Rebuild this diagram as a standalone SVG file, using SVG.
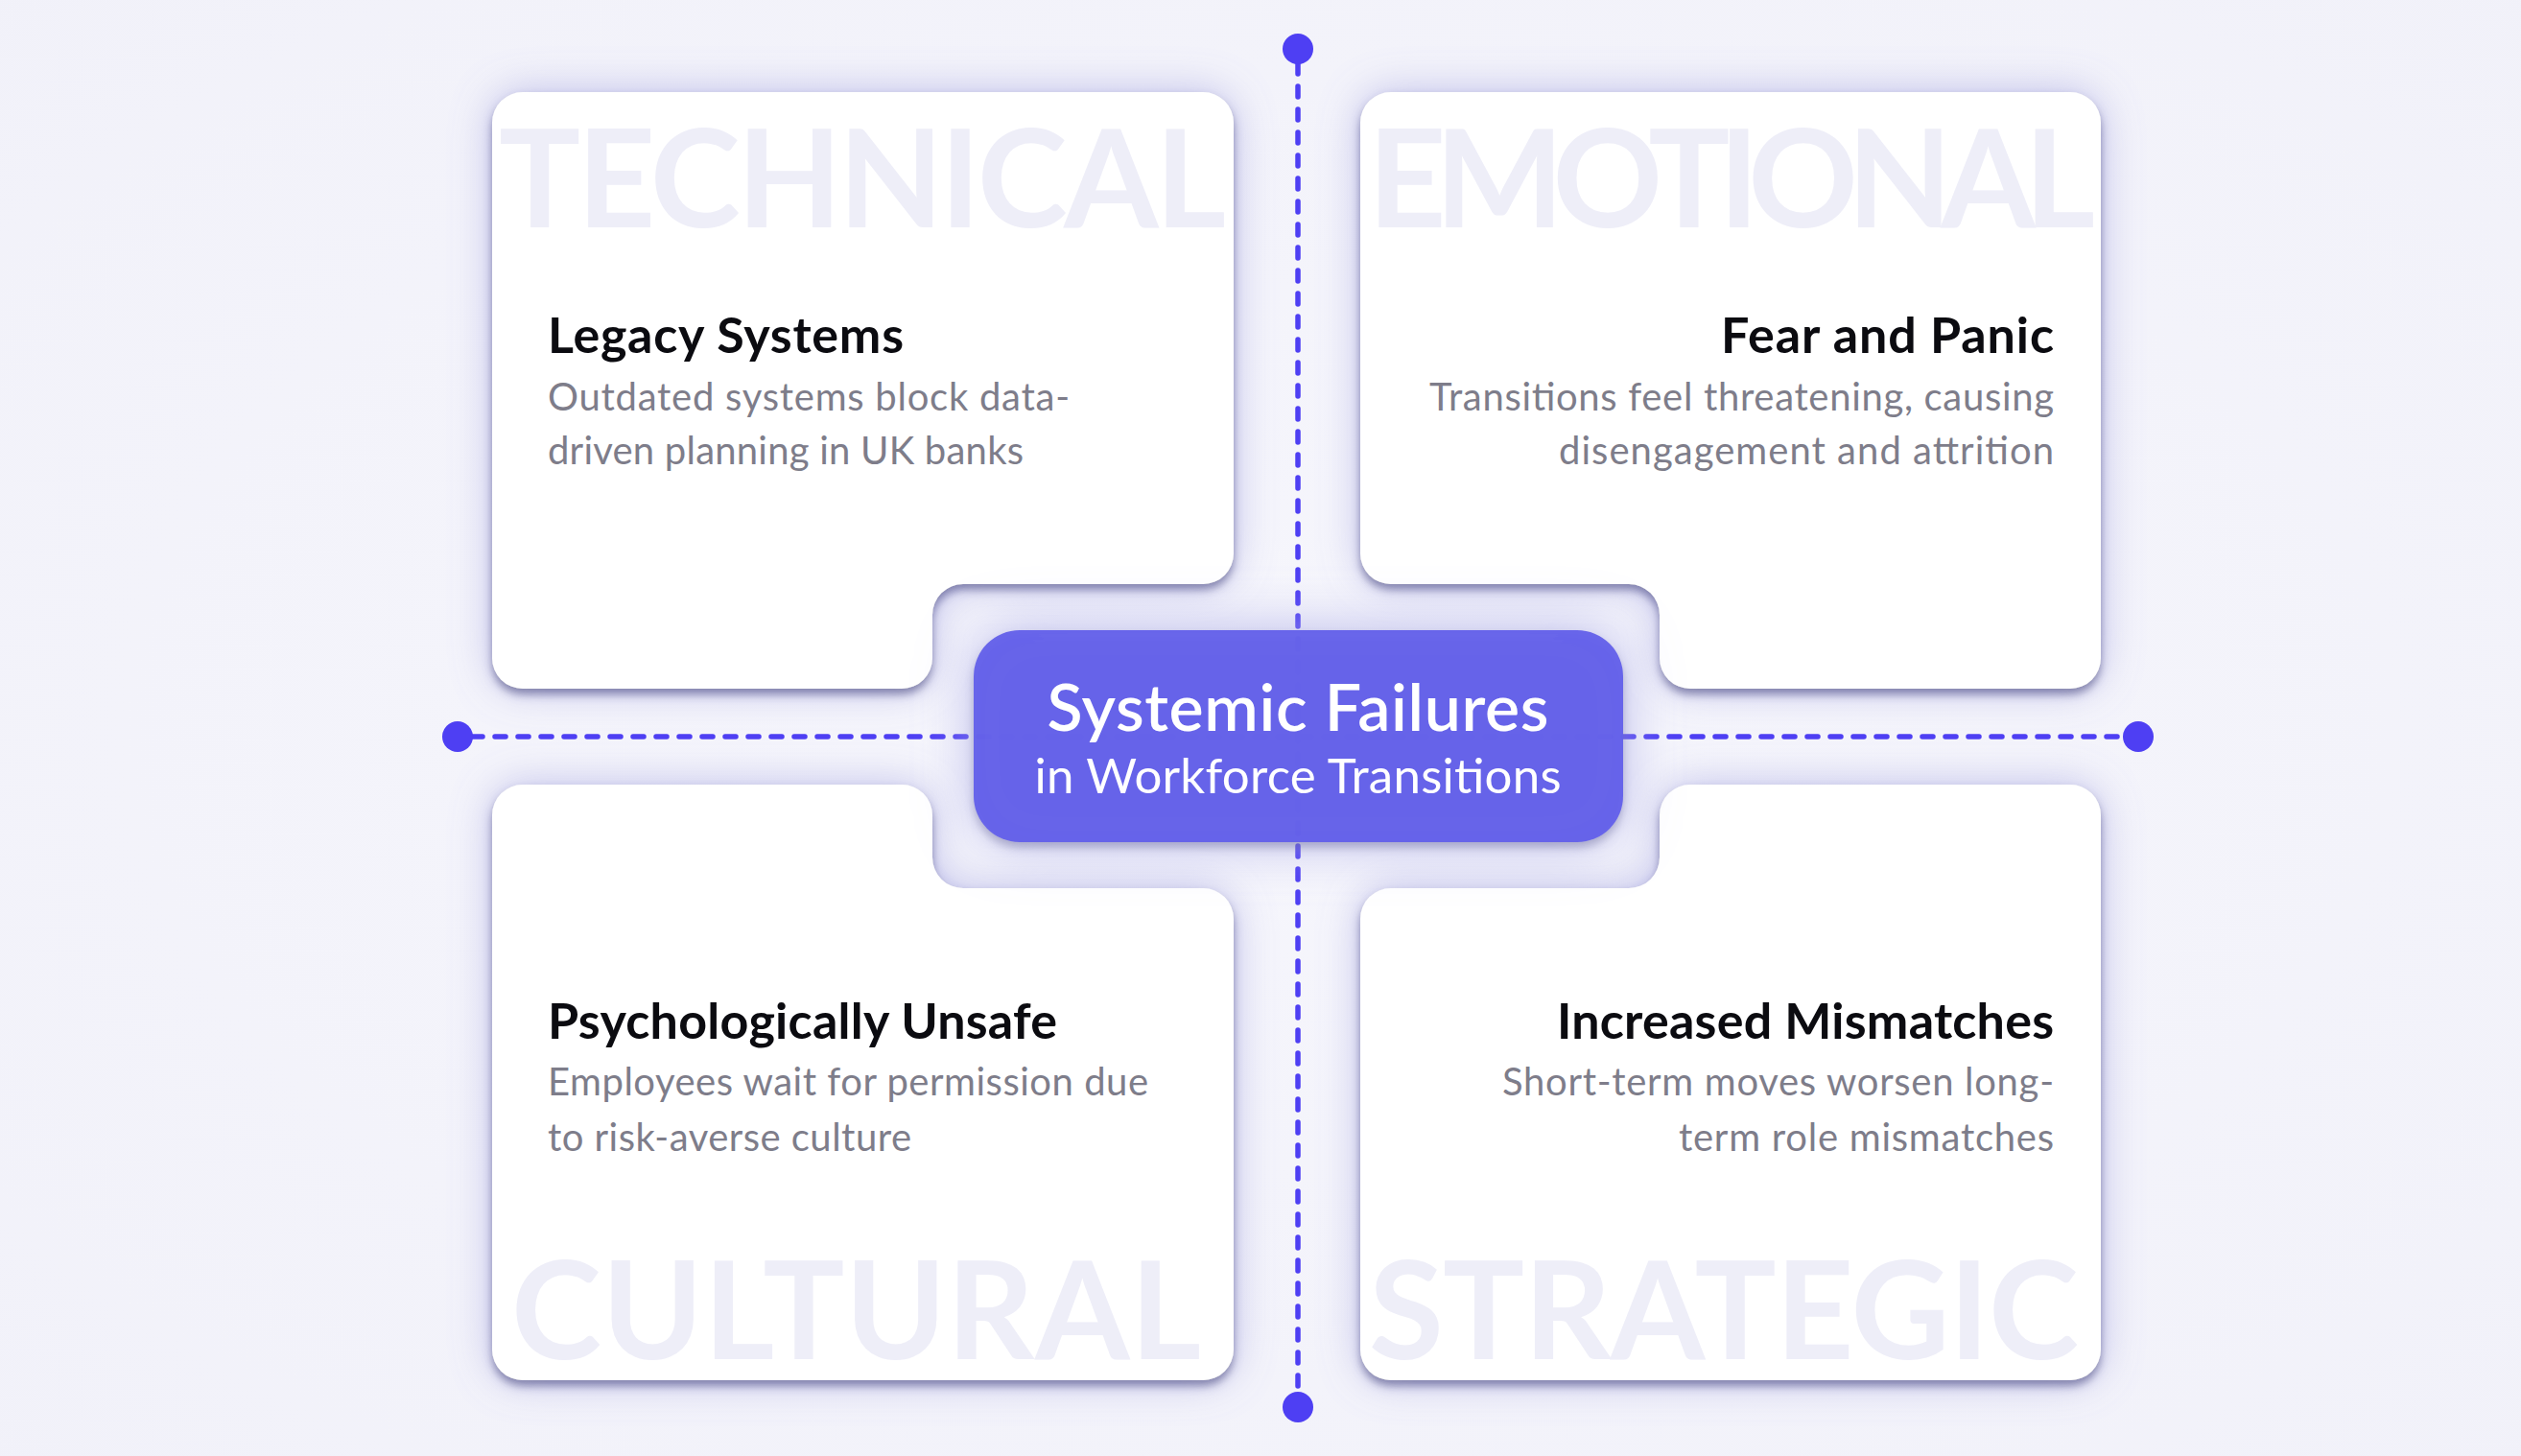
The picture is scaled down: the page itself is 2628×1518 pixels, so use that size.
<svg xmlns="http://www.w3.org/2000/svg" width="2628" height="1518" viewBox="0 0 2628 1518">
  <defs>
    <radialGradient id="bg" cx="50%" cy="50%" r="75%">
      <stop offset="0" stop-color="#F6F6FC"/>
      <stop offset="1" stop-color="#F1F1F9"/>
    </radialGradient>
    <filter id="cardShadow" x="-12%" y="-12%" width="124%" height="128%">
      <feGaussianBlur in="SourceAlpha" stdDeviation="22" result="b1"/>
      <feFlood flood-color="#7E7ED4" flood-opacity="0.45"/>
      <feComposite in2="b1" operator="in" result="glow"/>
      <feGaussianBlur in="SourceAlpha" stdDeviation="5" result="b2"/>
      <feOffset in="b2" dy="6" result="o2"/>
      <feFlood flood-color="#45457A" flood-opacity="0.6"/>
      <feComposite in2="o2" operator="in" result="sh"/>
      <feMerge>
        <feMergeNode in="glow"/>
        <feMergeNode in="sh"/>
        <feMergeNode in="SourceGraphic"/>
      </feMerge>
    </filter>
    <filter id="boxShadow" x="-20%" y="-40%" width="140%" height="180%">
      <feGaussianBlur in="SourceAlpha" stdDeviation="28" result="b1"/>
      <feFlood flood-color="#A4A4E4" flood-opacity="0.75"/>
      <feComposite in2="b1" operator="in" result="glow"/>
      <feGaussianBlur in="SourceAlpha" stdDeviation="5" result="b2"/>
      <feOffset in="b2" dy="6" result="o2"/>
      <feFlood flood-color="#4A4A7E" flood-opacity="0.4"/>
      <feComposite in2="o2" operator="in" result="sh"/>
      <feMerge>
        <feMergeNode in="glow"/>
        <feMergeNode in="sh"/>
        <feMergeNode in="SourceGraphic"/>
      </feMerge>
    </filter>
    <style>
      .card { fill: #FFFFFF; filter: url(#cardShadow); }
      .wm { font-family: "Lato", "Liberation Sans", sans-serif; font-weight: 700; font-size: 142px; fill: #EEEEF8; }
      .title { font-family: "Lato", "Liberation Sans", sans-serif; font-weight: 700; font-size: 52px; fill: #0B0B10; }
      .desc { font-family: "Lato", "Liberation Sans", sans-serif; font-weight: 400; font-size: 40px; fill: #7E7D8A; }
      .ctitle { font-family: "Lato", "Liberation Sans", sans-serif; font-weight: 600; font-size: 68px; fill: #FFFFFF; }
      .csub { font-family: "Lato", "Liberation Sans", sans-serif; font-weight: 400; font-size: 51px; fill: #FFFFFF; }
      .dash { stroke: #4E3FF3; stroke-width: 5.5; stroke-linecap: round; stroke-dasharray: 11 13; fill: none; }
      .dot { fill: #4E3FF3; }
      .end { text-anchor: end; }
    </style>
  </defs>

  <rect x="0" y="0" width="2628" height="1518" fill="url(#bg)"/>

  <g id="connectors">
    <line class="dash" x1="1353" y1="66" x2="1353" y2="1452"/>
    <line class="dash" x1="492" y1="768" x2="2213" y2="768"/>
    <circle class="dot" cx="1353" cy="51" r="16"/>
    <circle class="dot" cx="1353" cy="1467" r="16"/>
    <circle class="dot" cx="477" cy="768" r="16"/>
    <circle class="dot" cx="2229" cy="768" r="16"/>
  </g>

  <g id="node-technical">
    <path class="card" d="M 545 96 H 1254 A 32 32 0 0 1 1286 128 V 577 A 32 32 0 0 1 1254 609 H 1004 A 32 32 0 0 0 972 641 V 686 A 32 32 0 0 1 940 718 H 545 A 32 32 0 0 1 513 686 V 128 A 32 32 0 0 1 545 96 Z"/>
    <text class="wm" x="520" y="237" textLength="758">TECHNICAL</text>
    <text class="title" x="571" y="368" textLength="371">Legacy Systems</text>
    <text class="desc" x="571" y="428" textLength="544">Outdated systems block data-</text>
    <text class="desc" x="571" y="484" textLength="496">driven planning in UK banks</text>
  </g>

  <g id="node-emotional">
    <path class="card" d="M 1450 96 H 2158 A 32 32 0 0 1 2190 128 V 686 A 32 32 0 0 1 2158 718 H 1762 A 32 32 0 0 1 1730 686 V 641 A 32 32 0 0 0 1698 609 H 1450 A 32 32 0 0 1 1418 577 V 128 A 32 32 0 0 1 1450 96 Z"/>
    <text class="wm" x="1426" y="237" textLength="758">EMOTIONAL</text>
    <text class="title end" x="2141" y="368" textLength="347">Fear and Panic</text>
    <text class="desc end" x="2141" y="428" textLength="651">Transitions feel threatening, causing</text>
    <text class="desc end" x="2141" y="484" textLength="516">disengagement and attrition</text>
  </g>

  <g id="node-cultural">
    <path class="card" d="M 545 818 H 940 A 32 32 0 0 1 972 850 V 894 A 32 32 0 0 0 1004 926 H 1254 A 32 32 0 0 1 1286 958 V 1407 A 32 32 0 0 1 1254 1439 H 545 A 32 32 0 0 1 513 1407 V 850 A 32 32 0 0 1 545 818 Z"/>
    <text class="wm" x="533" y="1417" textLength="719">CULTURAL</text>
    <text class="title" x="571" y="1083" textLength="531">Psychologically Unsafe</text>
    <text class="desc" x="571" y="1142" textLength="626">Employees wait for permission due</text>
    <text class="desc" x="571" y="1200" textLength="379">to risk-averse culture</text>
  </g>

  <g id="node-strategic">
    <path class="card" d="M 1762 818 H 2158 A 32 32 0 0 1 2190 850 V 1407 A 32 32 0 0 1 2158 1439 H 1450 A 32 32 0 0 1 1418 1407 V 958 A 32 32 0 0 1 1450 926 H 1698 A 32 32 0 0 0 1730 894 V 850 A 32 32 0 0 1 1762 818 Z"/>
    <text class="wm" x="1427" y="1417" textLength="740">STRATEGIC</text>
    <text class="title end" x="2141" y="1083" textLength="518">Increased Mismatches</text>
    <text class="desc end" x="2141" y="1142" textLength="575">Short-term moves worsen long-</text>
    <text class="desc end" x="2141" y="1200" textLength="391">term role mismatches</text>
  </g>

  <g id="node-center">
    <rect x="1015" y="657" width="677" height="221" rx="48" ry="48" fill="#6461EA" fill-opacity="0.96" filter="url(#boxShadow)"/>
    <text class="ctitle" x="1353" y="762" text-anchor="middle" textLength="523">Systemic Failures</text>
    <text class="csub" x="1353" y="827" text-anchor="middle" textLength="549">in Workforce Transitions</text>
  </g>
</svg>
